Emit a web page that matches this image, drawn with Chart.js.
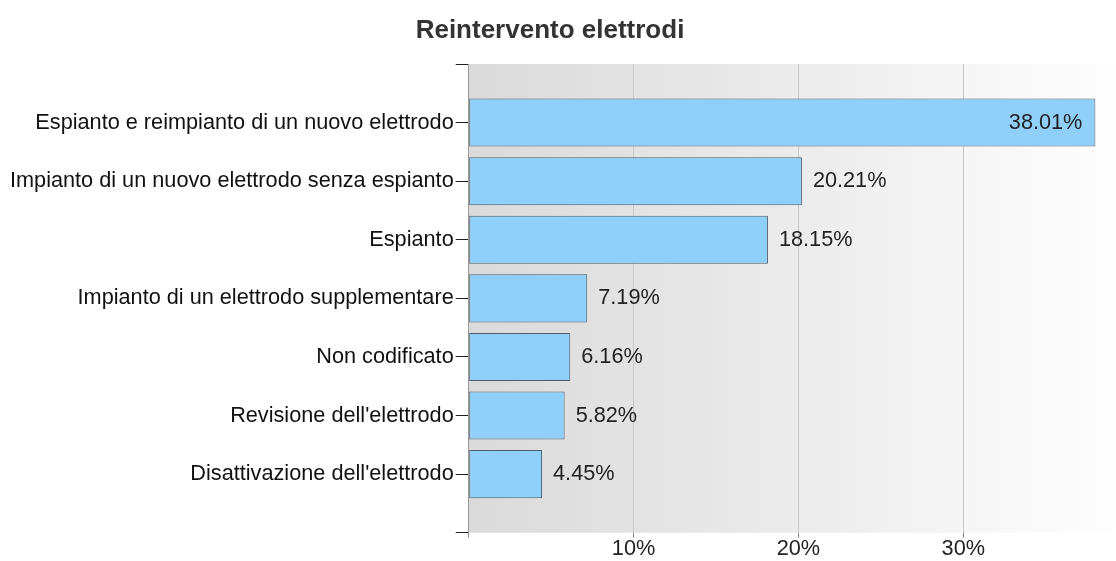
<!DOCTYPE html>
<html>
<head>
<meta charset="utf-8">
<script src="https://cdn.jsdelivr.net/npm/chart.js@4.4.0/dist/chart.umd.min.js"></script>
<style>
  html, body { margin: 0; padding: 0; background: #fff; }
  #wrap { width: 1116px; height: 561px; }
</style>
</head>
<body>
<div id="wrap"><canvas id="chart"></canvas></div>
<script>
const categories = [
  'Espianto e reimpianto di un nuovo elettrodo',
  'Impianto di un nuovo elettrodo senza espianto',
  'Espianto',
  'Impianto di un elettrodo supplementare',
  'Non codificato',
  "Revisione dell'elettrodo",
  "Disattivazione dell'elettrodo"
];
const percentages = [38.01, 20.21, 18.15, 7.19, 6.16, 5.82, 4.45];
const xTicks = [10, 20, 30];
const title = 'Reintervento elettrodi';

const FONT = "'Liberation Sans', Arial, sans-serif";
const FS = 21.7;

// empty slots at both ends give the axis its end ticks and the gaps above/below the bars
const axisLabels = [''].concat(categories, ['']);
const axisValues = [null].concat(percentages, [null]);

// gray-to-white gradient behind the bars
const plotBackground = {
  id: 'plotBackground',
  beforeDraw(chart) {
    const { ctx, chartArea: a } = chart;
    const g = ctx.createLinearGradient(a.left, 0, a.right, 0);
    g.addColorStop(0, '#dadada');
    g.addColorStop(0.5, '#ebebeb');
    g.addColorStop(1, '#fefefe');
    ctx.save();
    ctx.fillStyle = g;
    ctx.fillRect(a.left, a.top, a.right - a.left, a.bottom - a.top);
    ctx.restore();
  }
};

// title and value labels
const extras = {
  id: 'extras',
  afterDatasetsDraw(chart) {
    const { ctx, chartArea: a } = chart;
    ctx.save();

    ctx.font = 'bold 26px ' + FONT;
    ctx.fillStyle = '#333';
    ctx.textAlign = 'center';
    ctx.textBaseline = 'middle';
    ctx.fillText(title, chart.width / 2 - 8, a.top - 33);

    ctx.font = FS + 'px ' + FONT;
    ctx.fillStyle = '#222';
    const meta = chart.getDatasetMeta(0);
    meta.data.forEach((bar, i) => {
      const v = axisValues[i];
      if (v === null) return;
      const txt = v.toFixed(2) + '%';
      const w = ctx.measureText(txt).width;
      if (bar.x + 11 + w > a.right) {
        ctx.textAlign = 'right';
        ctx.fillText(txt, bar.x - 13, bar.y);
      } else {
        ctx.textAlign = 'left';
        ctx.fillText(txt, bar.x + 11, bar.y);
      }
    });
    ctx.restore();
  }
};

new Chart(document.getElementById('chart'), {
  type: 'bar',
  data: {
    labels: axisLabels,
    datasets: [{
      data: axisValues,
      backgroundColor: '#90cffa',
      borderColor: '#4a5f6e',
      borderWidth: 1,
      borderSkipped: false,
      barPercentage: 0.82,
      categoryPercentage: 1
    }]
  },
  options: {
    indexAxis: 'y',
    responsive: true,
    maintainAspectRatio: false,
    animation: false,
    layout: { padding: { left: 8, right: 1, top: 64, bottom: 0 } },
    plugins: {
      legend: { display: false },
      tooltip: { enabled: false },
      title: { display: false }
    },
    scales: {
      x: {
        type: 'linear',
        min: 0,
        max: 39.2,
        afterBuildTicks(scale) {
          scale.ticks = [0].concat(xTicks).map(v => ({ value: v }));
        },
        ticks: {
          color: '#222',
          font: { family: FONT, size: FS, lineHeight: 0.98 },
          padding: 1,
          callback: v => v === 0 ? '' : v + '%'
        },
        grid: {
          color: c => c.tick && c.tick.value === 0 ? '#999' : '#c8c8c8',
          tickColor: '#888',
          tickLength: 5
        },
        border: { display: false }
      },
      y: {
        offset: false,
        ticks: {
          color: '#111',
          font: { family: FONT, size: FS },
          padding: 2
        },
        grid: {
          offset: false,
          drawOnChartArea: false,
          tickColor: '#222',
          tickLength: 13
        },
        border: { display: true, color: '#999' }
      }
    }
  },
  plugins: [plotBackground, extras]
});
</script>
</body>
</html>
